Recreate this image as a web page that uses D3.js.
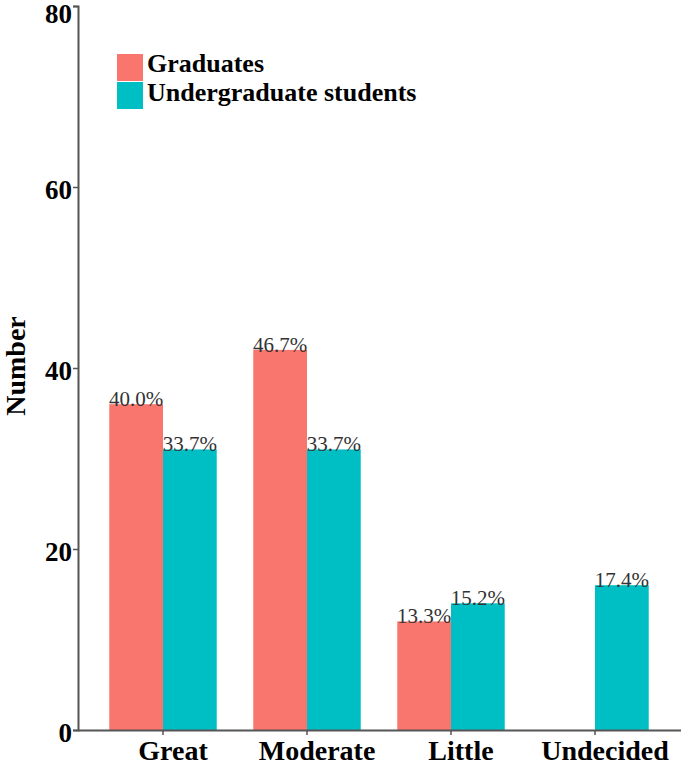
<!DOCTYPE html>
<html>
<head>
<meta charset="utf-8">
<script src="https://cdn.jsdelivr.net/npm/d3@7"></script>
<style>
  body { margin: 0; background: #fff; }
  svg text { font-family: "Liberation Serif", "DejaVu Serif"; }
</style>
</head>
<body>
<script>
var w = 685;
var h = 765;
var serif = "'Liberation Serif', 'DejaVu Serif'";

// data
var categories = ["Great", "Moderate", "Little", "Undecided"];
var seriesNames = ["Graduates", "Undergraduate students"];
var graduates = [36, 42, 12, 0];
var undergraduates = [31, 31, 14, 16];
var gradLabels = ["40.0%", "46.7%", "13.3%", ""];
var underLabels = ["33.7%", "33.7%", "15.2%", "17.4%"];
var yTicks = [0, 20, 40, 60, 80];
var colors = ["#F8766D", "#00BFC4"];

var rows = [];
categories.forEach(function(c, i) {
  rows.push({ cat: c, s: 0, v: graduates[i], label: gradLabels[i] });
  rows.push({ cat: c, s: 1, v: undergraduates[i], label: underLabels[i] });
});

var svg = d3.select("body")
  .append("svg")
  .attr("width", w)
  .attr("height", h);

var x = d3.scaleBand()
  .domain(categories)
  .range([91, 667]);

var inner = d3.scaleBand()
  .domain([0, 1])
  .range([0, x.bandwidth()])
  .paddingOuter(0.34);

var y = d3.scaleLinear()
  .domain([0, 80])
  .range([730, 6]);

// bars
svg.selectAll("rect.bar")
  .data(rows.filter(function(d) { return d.v > 0; }))
  .enter()
  .append("rect")
  .attr("class", "bar")
  .attr("x", function(d) { return x(d.cat) + inner(d.s); })
  .attr("width", inner.bandwidth())
  .attr("y", function(d) { return y(d.v); })
  .attr("height", function(d) { return y(0) - y(d.v); })
  .attr("fill", function(d) { return colors[d.s]; });

// bar labels
svg.selectAll("text.lab")
  .data(rows.filter(function(d) { return d.label !== ""; }))
  .enter()
  .append("text")
  .attr("class", "lab")
  .attr("x", function(d) { return x(d.cat) + inner(d.s) + inner.bandwidth() / 2; })
  .attr("y", function(d) { return y(d.v) + 2; })
  .attr("text-anchor", "middle")
  .style("font-family", serif)
  .style("font-size", "21px")
  .style("fill", "#333")
  .text(function(d) { return d.label; });

// y axis
var yAxis = svg.append("g")
  .attr("transform", "translate(78,0)")
  .call(d3.axisLeft(y).tickValues(yTicks).tickSize(5).tickPadding(1));

// x axis
var xAxis = svg.append("g")
  .attr("transform", "translate(0,730)")
  .call(d3.axisBottom(x).tickSize(5).tickPadding(5).tickSizeOuter(0));

xAxis.select(".domain").attr("d", "M78,0.5H681");

[yAxis, xAxis].forEach(function(g) {
  g.attr("font-family", null);
  g.select(".domain").attr("stroke", "#555").attr("stroke-width", 2);
  g.selectAll(".tick line").attr("stroke", "#555").attr("stroke-width", 1.5);
  g.selectAll(".tick text")
    .style("font-family", serif)
    .style("font-weight", "bold")
    .attr("fill", "#000");
});

yAxis.selectAll(".tick text")
  .style("font-size", "27px")
  .attr("dy", function(d) { return d === 80 ? "0.62em" : "0.43em"; });

// category labels sit a little right of their ticks in the original
xAxis.selectAll(".tick text")
  .style("font-size", "28px")
  .attr("dx", 10);

// y title
svg.append("text")
  .attr("transform", "translate(25,366) rotate(-90)")
  .attr("text-anchor", "middle")
  .style("font-family", serif)
  .style("font-weight", "bold")
  .style("font-size", "28px")
  .text("Number");

// legend
var legend = svg.append("g")
  .attr("transform", "translate(117,54)");

legend.selectAll("rect")
  .data(seriesNames)
  .enter()
  .append("rect")
  .attr("x", 0)
  .attr("y", function(d, i) { return i * 28; })
  .attr("width", 26)
  .attr("height", 27)
  .attr("fill", function(d, i) { return colors[i]; });

legend.selectAll("text")
  .data(seriesNames)
  .enter()
  .append("text")
  .attr("x", 30)
  .attr("y", function(d, i) { return i * 29 + 18; })
  .style("font-family", serif)
  .style("font-weight", "bold")
  .style("font-size", "26px")
  .text(function(d) { return d; });
</script>
</body>
</html>
